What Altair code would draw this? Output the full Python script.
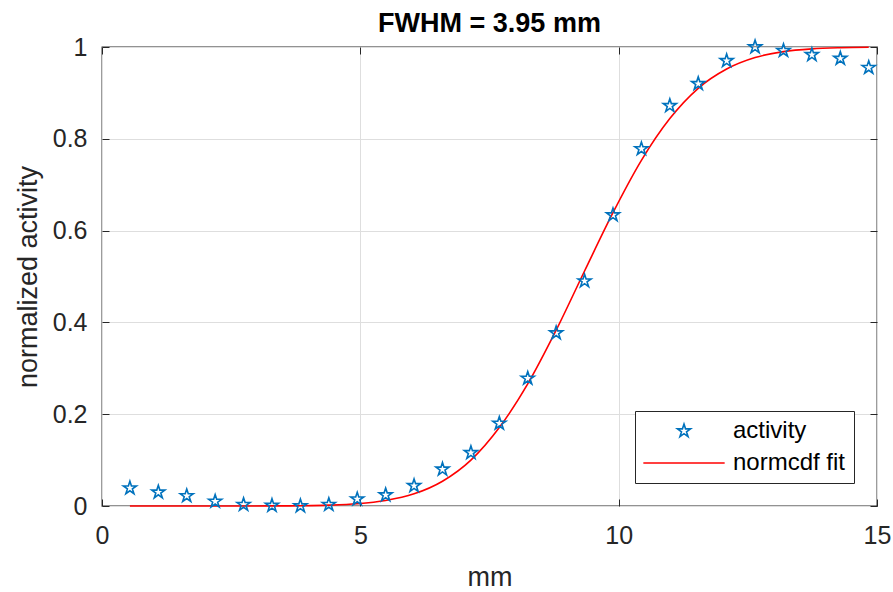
import altair as alt
import pandas as pd

# ---- data ----
x_mm = [0.54, 1.09, 1.64, 2.19, 2.74, 3.29, 3.84, 4.39, 4.94, 5.49, 6.04, 6.59, 7.14,
        7.69, 8.24, 8.79, 9.34, 9.89, 10.44, 10.99, 11.54, 12.09, 12.64, 13.19, 13.74,
        14.29, 14.84]
activity = [0.039, 0.030, 0.022, 0.010, 0.003, 0.001, 0.000, 0.003, 0.015, 0.024, 0.044,
            0.080, 0.116, 0.180, 0.278, 0.377, 0.490, 0.634, 0.778, 0.872, 0.920, 0.970,
            1.000, 0.992, 0.983, 0.975, 0.955]
fit = [0.0, 0.0, 0.0, 0.00001, 0.00005, 0.0002, 0.0006, 0.0018, 0.0048, 0.0119, 0.0265,
       0.054, 0.100, 0.171, 0.266, 0.383, 0.512, 0.639, 0.753, 0.844, 0.910, 0.952,
       0.977, 0.990, 0.996, 0.9985, 0.9995]
x_ticks = [0, 5, 10, 15]
y_ticks = [0, 0.2, 0.4, 0.6, 0.8, 1]
series = ["activity", "normcdf fit"]

STAR = ("M0,-1L0.2245,-0.309L0.951,-0.309L0.363,0.118L0.588,0.809L0,0.382"
        "L-0.588,0.809L-0.363,0.118L-0.951,-0.309L-0.2245,-0.309Z")
LINE = "M-5.9,0L5.9,0"

FONT = "Liberation Sans"
INK = "#262626"

pts = pd.DataFrame({"x": x_mm, "y": activity, "series": series[0]})
fitdf = pd.DataFrame({"x": x_mm, "y": fit})

xscale = alt.Scale(domain=[0, 15], nice=False, zero=False)
yscale = alt.Scale(domain=[0, 1], nice=False, zero=False)
cscale = alt.Scale(domain=series, range=["#0072BD", "#FF0000"])

x_main = alt.Axis(orient="bottom", values=x_ticks, offset=-7, tickSize=7, domain=False,
                  grid=True, gridColor="#dedede", gridWidth=1, labelPadding=17,
                  labelFlush=False, format="~g", title="mm", titlePadding=16)
y_main = alt.Axis(orient="left", values=y_ticks, offset=-7, tickSize=7, domain=False,
                  grid=True, gridColor="#dedede", gridWidth=1, labelPadding=15,
                  format="~g", title="normalized activity", titlePadding=10)
x_top = alt.Axis(orient="top", values=x_ticks, offset=-7, tickSize=7, domain=False,
                 grid=False, labels=False, title=None)
y_right = alt.Axis(orient="right", values=y_ticks, offset=-7, tickSize=7, domain=False,
                   grid=False, labels=False, title=None)

legend = alt.Legend(
    title=None, orient="bottom-right", offset=23, padding=8, strokeColor=INK,
    fillColor="#ffffff", labelFont=FONT, labelFontSize=24, labelColor="#000000",
    symbolSize=190, symbolStrokeWidth=1.6, symbolOffset=29, labelOffset=37,
    rowPadding=8, cornerRadius=0,
)

line = alt.Chart(fitdf).mark_line(strokeWidth=1.6, color="#FF0000",
                                  interpolate="monotone").encode(
    x=alt.X("x:Q", scale=xscale, axis=x_main),
    y=alt.Y("y:Q", scale=yscale, axis=y_main),
)

points = alt.Chart(pts).mark_point(filled=False, strokeWidth=1.6, size=190, opacity=1).encode(
    x=alt.X("x:Q", scale=xscale, axis=x_top),
    y=alt.Y("y:Q", scale=yscale, axis=y_right),
    color=alt.Color("series:N", scale=cscale, legend=legend),
    shape=alt.Shape("series:N", scale=alt.Scale(domain=series, range=[STAR, LINE]),
                    legend=legend),
)

chart = alt.layer(line, points).resolve_axis(x="independent", y="independent").properties(
    width=775,
    height=459,
    autosize=alt.AutoSizeParams(type="none"),
    padding={"left": 102, "top": 47, "right": 16, "bottom": 86},
    title=alt.TitleParams("FWHM = 3.95 mm", fontSize=27, fontWeight="bold", font=FONT,
                          color="#000000", anchor="middle", offset=14, dy=17),
).configure_view(
    stroke=INK, strokeWidth=1.3
).configure_axis(
    labelFont=FONT, labelFontSize=25, labelColor=INK, tickColor=INK, tickWidth=1,
    titleFont=FONT, titleFontSize=27, titleColor=INK, titleFontWeight="normal",
)

chart.save("out.html", embed_options={"renderer": "svg", "actions": False})
